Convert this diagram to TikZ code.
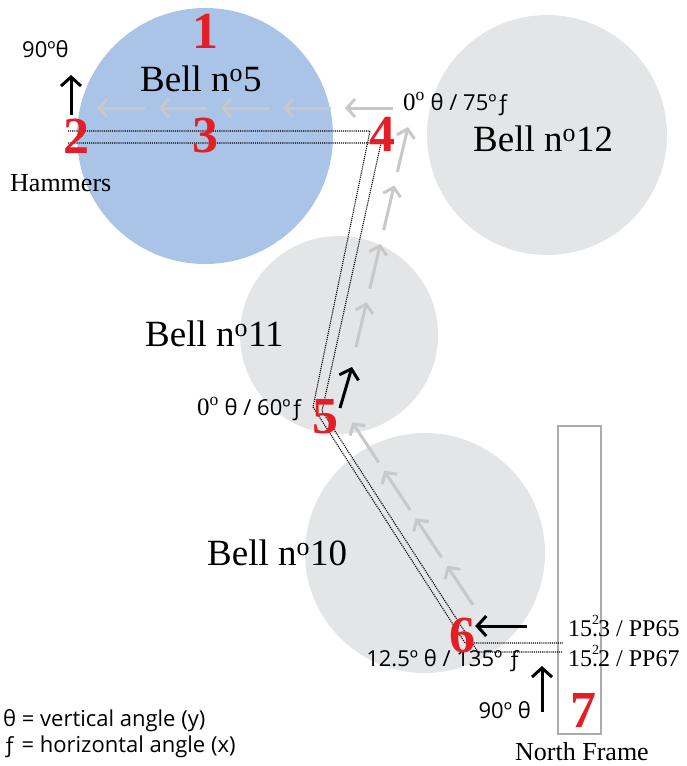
\documentclass[tikz,border=0pt]{standalone}
\usepackage{fontspec}
\usepackage{tikz}
\usetikzlibrary{arrows.meta,calc}
\setmainfont{Liberation Serif}
\newfontfamily\anglesans{Open Sans}
\definecolor{BellBlue}{HTML}{A9C4E6}
\definecolor{BellGrey}{HTML}{E4E5E7}
\definecolor{FlowGrey}{HTML}{C8C8C8}
\definecolor{HitRed}{HTML}{E41E26}
\definecolor{FrameGrey}{HTML}{ABABAB}
\newcommand{\ordo}{\textsuperscript{o}}

\begin{document}
\begin{tikzpicture}[
    x=1pt, y=-1pt,
    bellblue/.style={circle, fill=BellBlue, inner sep=0pt},
    bellgrey/.style={circle, fill=BellGrey, inner sep=0pt},
    belllabel/.style={inner sep=0pt, font=\fontsize{37}{40}\selectfont},
    smalllabel/.style={inner sep=0pt, font=\fontsize{26}{28}\selectfont},
    anglelabel/.style={inner sep=0pt, font=\anglesans\fontsize{22}{26}\selectfont},
    hitnum/.style={inner sep=0pt, text=HitRed, font=\fontsize{52}{52}\selectfont\bfseries},
    framebox/.style={draw=FrameGrey, line width=2pt, inner sep=0pt},
    wire/.style={densely dotted, line width=1.1pt},
    flowarrow/.style={-{Straight Barb[length=8pt,width=18pt]}, line width=3pt, FlowGrey},
    pusharrow/.style={-{Straight Barb[length=9pt,width=20pt]}, line width=3pt, black}
  ]

  \useasboundingbox (0,0) rectangle (687,766);

  % bells
  \node[bellblue, minimum size=256pt] (bell5) at (205,136) {};
  \node[bellgrey, minimum size=240pt] (bell12) at (547,135) {};
  \node[bellgrey, minimum size=198pt] (bell11) at (339,335) {};
  \node[bellgrey, minimum size=240pt] (bell10) at (425,553) {};
  \node[framebox, minimum width=43pt, minimum height=308pt] (frame) at (579.5,580) {};

  % grey flow arrows
  \coordinate (topS) at (393,108);
  \coordinate (topE) at (97,108);
  \coordinate (midS) at (356,347);
  \coordinate (midE) at (408,127);
  \coordinate (lowS) at (473,605);
  \coordinate (lowE) at (352,422);
  \foreach \a/\b in {0/48,62/110,124/172,186/234,248/296}
    \draw[flowarrow] ($(topS)!\a pt!(topE)$) -- ($(topS)!\b pt!(topE)$);
  \foreach \a/\b in {0/46,60/106,120/166,180/226}
    \draw[flowarrow] ($(midS)!\a pt!(midE)$) -- ($(midS)!\b pt!(midE)$);
  \foreach \a/\b in {0/47,57/104,114/161,171/219}
    \draw[flowarrow] ($(lowS)!\a pt!(lowE)$) -- ($(lowS)!\b pt!(lowE)$);

  % hammer wires
  \coordinate (w2a) at (68,131);
  \coordinate (w4a) at (370,131);
  \coordinate (w5a) at (313,407);
  \coordinate (w6a) at (465,643);
  \coordinate (w7a) at (563,643);
  \coordinate (w2b) at (68,143);
  \coordinate (w4b) at (381,143);
  \coordinate (w5b) at (322,411);
  \coordinate (w6b) at (478,652);
  \coordinate (w7b) at (563,652);
  \draw[wire] (w2a) -- (w4a) -- (w5a) -- (w6a) -- (w7a);
  \draw[wire] (w2b) -- (w4b) -- (w5b) -- (w6b) -- (w7b);

  % labels
  \node[belllabel, anchor=base west] (lab5) at (140,91) {Bell n\ordo5};
  \node[belllabel, anchor=base west] (lab12) at (473,151) {Bell n\ordo12};
  \node[belllabel, anchor=base west] (lab11) at (145,346) {Bell n\ordo11};
  \node[belllabel, anchor=base west] (lab10) at (207,565) {Bell n\ordo10};
  \node[smalllabel, anchor=base west] (hammers) at (10,191) {Hammers};
  \node[smalllabel, anchor=base west] (north) at (515,760) {North Frame};
  \node[smalllabel, font=\fontsize{24}{26}\selectfont, anchor=base west] (pp65) at (568,636)
    {15\makebox[0pt][l]{\raisebox{0.5em}{\fontsize{14}{14}\selectfont 2}}.3 / PP65};
  \node[smalllabel, font=\fontsize{24}{26}\selectfont, anchor=base west] (pp67) at (568,666)
    {15\makebox[0pt][l]{\raisebox{0.5em}{\fontsize{14}{14}\selectfont 2}}.2 / PP67};

  \node[anglelabel, anchor=base west] (ang2) at (22,57) {90ºθ};
  \node[anglelabel, anchor=base west] (ang4) at (403,110)
    {{\rmfamily\fontsize{25}{26}\selectfont 0\ordo} θ / 75ºƒ};
  \node[anglelabel, anchor=base west] (ang5) at (197,415)
    {{\rmfamily\fontsize{25}{26}\selectfont 0\ordo} θ / 60ºƒ};
  \node[anglelabel, anchor=base east] (ang6) at (521,666) {12.5º θ / 135º ƒ};
  \node[anglelabel, anchor=base east] (ang7) at (531,718) {90º θ};
  \node[anglelabel, anchor=base west] (keyv) at (3,726) {θ = vertical angle (y)};
  \node[anglelabel, anchor=base west] (keyh) at (3,752) {ƒ = horizontal angle (x)};

  % hammer numbers
  \node[hitnum, anchor=base] (n1) at (205,48) {1};
  \node[hitnum, anchor=base] (n2) at (76,153) {2};
  \node[hitnum, anchor=base] (n3) at (205,152) {3};
  \node[hitnum, anchor=base] (n4) at (382,151) {4};
  \node[hitnum, anchor=base] (n5) at (325,433) {5};
  \node[hitnum, anchor=base] (n6) at (462,652) {6};
  \node[hitnum, anchor=base] (n7) at (583,727) {7};

  % push arrows
  \coordinate (push2) at (71,115);
  \coordinate (push5) at (340,408);
  \coordinate (push6) at (527,626);
  \coordinate (push7) at (542,712);
  \draw[pusharrow] (push2) -- (71,75);
  \draw[pusharrow] (push5) -- (352,367);
  \draw[pusharrow] (push6) -- (n6.east |- push6);
  \draw[pusharrow] (push7) -- (542,666);

\end{tikzpicture}
\end{document}
